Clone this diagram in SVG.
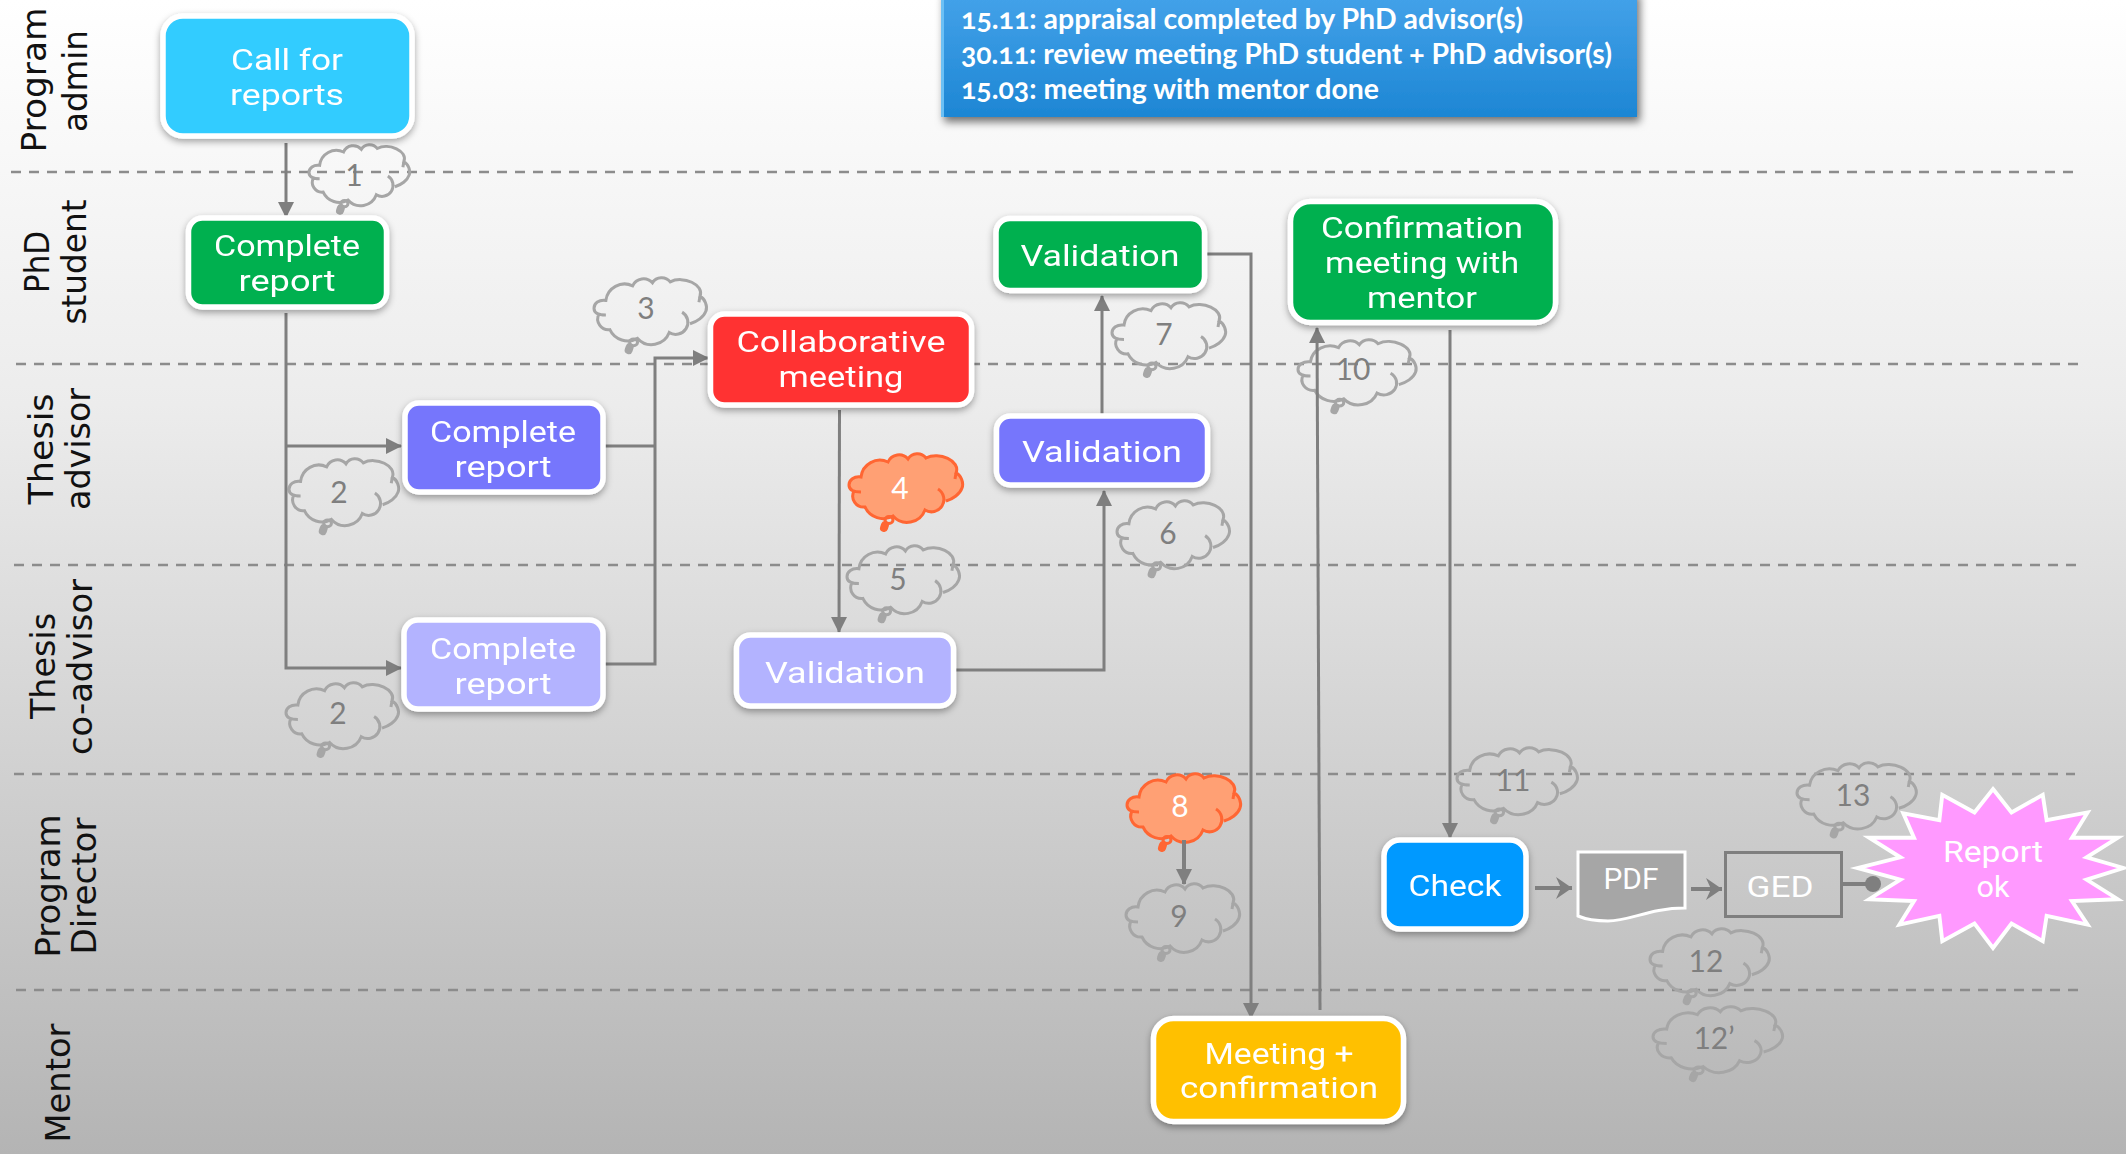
<svg xmlns="http://www.w3.org/2000/svg" xmlns:xlink="http://www.w3.org/1999/xlink" width="2126" height="1154" viewBox="0 0 2126 1154">
<style>
text{font-family:"Lato","Noto Sans",sans-serif;text-anchor:middle}
.lane{font-family:"DejaVu Sans",sans-serif;font-size:34px;fill:#111}
.n{stroke:#fff;stroke-width:5.5}
.t{fill:#fff;font-size:29px;font-family:"Roboto","Noto Sans",sans-serif}
.ct{fill:#7f7f7f;font-size:30px}
.cw{fill:#fff;font-size:30px}
.note{fill:#fff;font-size:28px;font-weight:700;text-anchor:start;font-variant-numeric:oldstyle-nums}
.dash{stroke:#8c8c8c;stroke-width:2.5;stroke-dasharray:10 8;fill:none}
.c{stroke:#7f7f7f;stroke-width:3;fill:none}
.c4{stroke:#7f7f7f;stroke-width:4;fill:none}
.cg{stroke:#a6a6a6;fill:none}
.co{stroke:#ff6633;fill:#ffa074}
</style>
<defs>
<linearGradient id="bg" x1="0" y1="0" x2="0" y2="1"><stop offset="0" stop-color="#fff"/><stop offset="0.35" stop-color="#ececec"/><stop offset="1" stop-color="#b4b4b4"/></linearGradient>
<linearGradient id="blue" x1="0" y1="0" x2="0" y2="1"><stop offset="0" stop-color="#45a3ea"/><stop offset="1" stop-color="#1d86d4"/></linearGradient>
<filter id="sh" x="-15%" y="-15%" width="130%" height="140%"><feDropShadow dx="0" dy="3" stdDeviation="3.5" flood-color="#000" flood-opacity="0.35"/></filter>
<filter id="sh2" x="-5%" y="-15%" width="110%" height="140%"><feDropShadow dx="3" dy="5" stdDeviation="4" flood-color="#000" flood-opacity="0.55"/></filter>
<marker id="a" markerUnits="userSpaceOnUse" markerWidth="16" markerHeight="16" refX="15" refY="8" orient="auto"><path d="M0 0L16 8L0 16Z" fill="#7f7f7f"/></marker>
<marker id="s" markerUnits="userSpaceOnUse" markerWidth="20" markerHeight="24" refX="19" refY="12" orient="auto"><path d="M3 1L19 12L3 23L8 12Z" fill="#7f7f7f"/></marker>
<g id="cloud">
<path stroke="none" d="M12 39C3 39 0 36 0 32C0 27 5 23 12 24A19 19 0 0 1 39 9A12 12 0 0 1 59 6A11 11 0 0 1 77 5C90 -2 112 8 107 20C112 22 115 30 113 35C111 41 104 46 97 48L93 54L85 59L76 57A19 19 0 0 1 44 63A20 20 0 0 1 16 54A11 11 0 0 1 5 38Z"/>
<path fill="none" vector-effect="non-scaling-stroke" stroke-width="3" d="M12 39C3 39 0 36 0 32C0 27 5 23 12 24A19 19 0 0 1 39 9A12 12 0 0 1 59 6A11 11 0 0 1 77 5C90 -2 112 8 107 20C112 22 115 30 113 35C111 41 104 46 97 48M107 20L106 26M89 36A12 12 0 0 1 76 57A19 19 0 0 1 44 63A20 20 0 0 1 16 54A11 11 0 0 1 5 38"/>
<ellipse cx="40" cy="67" rx="4" ry="3.500" fill="none" vector-effect="non-scaling-stroke" stroke-width="3"/>
<path d="M36 72L35 75" fill="none" vector-effect="non-scaling-stroke" stroke-width="8" stroke-linecap="round"/>
</g>
</defs>
<rect width="2126" height="1154" fill="url(#bg)"/>
<g id="lanes">
<path class="dash" d="M11 172H2075M16 364H2081M14 565H2077M14 774H2075M16 990H2081"/>
<text class="lane" transform="translate(46,80) rotate(-90)"><tspan x="0" y="0" textLength="145" lengthAdjust="spacingAndGlyphs">Program</tspan><tspan x="-1" y="41" textLength="102" lengthAdjust="spacingAndGlyphs">admin</tspan></text>
<text class="lane" transform="translate(49,262) rotate(-90)"><tspan x="0" y="0" textLength="62" lengthAdjust="spacingAndGlyphs">PhD</tspan><tspan x="0" y="37" textLength="125" lengthAdjust="spacingAndGlyphs">student</tspan></text>
<text class="lane" transform="translate(53,449) rotate(-90)"><tspan x="0" y="0" textLength="111" lengthAdjust="spacingAndGlyphs">Thesis</tspan><tspan x="0" y="37" textLength="122" lengthAdjust="spacingAndGlyphs">advisor</tspan></text>
<text class="lane" transform="translate(55,666) rotate(-90)"><tspan x="0" y="0" textLength="106" lengthAdjust="spacingAndGlyphs">Thesis</tspan><tspan x="-1" y="37" textLength="176" lengthAdjust="spacingAndGlyphs">co-advisor</tspan></text>
<text class="lane" transform="translate(60,886) rotate(-90)"><tspan x="0" y="0" textLength="143" lengthAdjust="spacingAndGlyphs">Program</tspan><tspan x="0" y="36" textLength="137" lengthAdjust="spacingAndGlyphs">Director</tspan></text>
<text class="lane" transform="translate(70,1083) rotate(-90)" textLength="119" lengthAdjust="spacingAndGlyphs">Mentor</text>
</g>
<g id="note">
<rect x="941" y="-10" width="696" height="127" fill="url(#blue)" filter="url(#sh2)"/>
<rect x="941" y="-10" width="3" height="127" fill="#6cc0f5"/>
<text class="note" x="961" y="29" textLength="562" lengthAdjust="spacingAndGlyphs">15.11: appraisal completed by PhD advisor(s)</text>
<text class="note" x="961" y="64" textLength="651" lengthAdjust="spacingAndGlyphs">30.11: review meeting PhD student + PhD advisor(s)</text>
<text class="note" x="961" y="99" textLength="418" lengthAdjust="spacingAndGlyphs">15.03: meeting with mentor done</text>
</g>
<g id="clouds">
<g id="cloud1"><use xlink:href="#cloud" class="cg" transform="translate(309,144) scale(.886,.89)"/><text class="ct" x="354" y="186">1</text></g>
<g id="cloud2a"><use xlink:href="#cloud" class="cg" transform="translate(289,458) scale(.965,.975)"/><text class="ct" x="339" y="503">2</text></g>
<g id="cloud2b"><use xlink:href="#cloud" class="cg" transform="translate(286,682) scale(.99,.96)"/><text class="ct" x="338" y="724">2</text></g>
<g id="cloud3"><use xlink:href="#cloud" class="cg" transform="translate(594,277) scale(.99,.975)"/><text class="ct" x="646" y="319">3</text></g>
<g id="cloud4"><use xlink:href="#cloud" class="co" transform="translate(849,453)"/><text class="cw" x="900" y="499">4</text></g>
<g id="cloud5"><use xlink:href="#cloud" class="cg" transform="translate(847,545) scale(.99,.99)"/><text class="ct" x="898" y="590">5</text></g>
<g id="cloud6"><use xlink:href="#cloud" class="cg" transform="translate(1117,500) scale(.99,.99)"/><text class="ct" x="1168" y="544">6</text></g>
<g id="cloud7"><use xlink:href="#cloud" class="cg" transform="translate(1112,302) scale(1,.96)"/><text class="ct" x="1164" y="345">7</text></g>
<g id="cloud8"><use xlink:href="#cloud" class="co" transform="translate(1127,773)"/><text class="cw" x="1180" y="817">8</text></g>
<g id="cloud9"><use xlink:href="#cloud" class="cg" transform="translate(1126,883)"/><text class="ct" x="1179" y="927">9</text></g>
<g id="cloud10"><use xlink:href="#cloud" class="cg" transform="translate(1298,339) scale(1.04,.95)"/><text class="ct" x="1353" y="380">10</text></g>
<g id="cloud11"><use xlink:href="#cloud" class="cg" transform="translate(1457,747) scale(1.06,.975)"/><text class="ct" x="1513" y="791">11</text></g>
<g id="cloud12"><use xlink:href="#cloud" class="cg" transform="translate(1650,928) scale(1.05,.975)"/><text class="ct" x="1706" y="972">12</text></g>
<g id="cloud12p"><use xlink:href="#cloud" class="cg" transform="translate(1653,1006) scale(1.14,.96)"/><text class="ct" x="1714" y="1049">12’</text></g>
<g id="cloud13"><use xlink:href="#cloud" class="cg" transform="translate(1797,762) scale(1.05,.965)"/><text class="ct" x="1853" y="806">13</text></g>
</g>
<g id="connectors">
<path class="c" marker-end="url(#a)" d="M286 143V217"/>
<path class="c" marker-end="url(#a)" d="M286 313V668H401"/>
<path class="c" marker-end="url(#a)" d="M286 446H401"/>
<path class="c" d="M605 446H655"/>
<path class="c" marker-end="url(#a)" d="M605 664H655V358H708"/>
<path class="c" marker-end="url(#a)" d="M839.500 410L839 632"/>
<path class="c" marker-end="url(#a)" d="M956 670H1104V491"/>
<path class="c" marker-end="url(#a)" d="M1102 414V296"/>
<path class="c" marker-end="url(#a)" d="M1204 254H1251V1018"/>
<path class="c" marker-end="url(#a)" d="M1320 1010L1317 328"/>
<path class="c" marker-end="url(#a)" d="M1450 330V838"/>
<path class="c4" marker-end="url(#a)" d="M1184 840V884"/>
<path class="c4" marker-end="url(#s)" d="M1535 888H1572"/>
<path class="c4" marker-end="url(#s)" d="M1691 889H1722"/>
<path class="c4" d="M1842 884H1868"/>
<circle cx="1873" cy="884" r="8" fill="#7f7f7f"/>
</g>
<g id="call" filter="url(#sh)"><rect class="n" x="163" y="16" width="249" height="120" rx="20" fill="#33ccff"/><text class="t"><tspan x="287" y="70" textLength="112" lengthAdjust="spacingAndGlyphs">Call for</tspan><tspan x="287" y="105" textLength="114" lengthAdjust="spacingAndGlyphs">reports</tspan></text></g>
<g id="student-report" filter="url(#sh)"><rect class="n" x="188.500" y="218" width="198" height="89" rx="14" fill="#00b050"/><text class="t"><tspan x="287" y="256" textLength="146" lengthAdjust="spacingAndGlyphs">Complete</tspan><tspan x="287" y="291" textLength="97" lengthAdjust="spacingAndGlyphs">report</tspan></text></g>
<g id="advisor-report" filter="url(#sh)"><rect class="n" x="405" y="403" width="198" height="89" rx="14" fill="#7676fc"/><text class="t"><tspan x="503" y="442" textLength="146" lengthAdjust="spacingAndGlyphs">Complete</tspan><tspan x="503" y="477" textLength="97" lengthAdjust="spacingAndGlyphs">report</tspan></text></g>
<g id="coadvisor-report" filter="url(#sh)"><rect class="n" x="404" y="620" width="199" height="89" rx="14" fill="#b3b3ff"/><text class="t"><tspan x="503" y="659" textLength="146" lengthAdjust="spacingAndGlyphs">Complete</tspan><tspan x="503" y="694" textLength="97" lengthAdjust="spacingAndGlyphs">report</tspan></text></g>
<g id="collab" filter="url(#sh)"><rect class="n" x="710.500" y="314" width="261" height="91" rx="14" fill="#ff3333"/><text class="t"><tspan x="841" y="352" textLength="209" lengthAdjust="spacingAndGlyphs">Collaborative</tspan><tspan x="841" y="387" textLength="125" lengthAdjust="spacingAndGlyphs">meeting</tspan></text></g>
<g id="val-co" filter="url(#sh)"><rect class="n" x="736.500" y="635" width="217" height="71" rx="14" fill="#b3b3ff"/><text class="t" x="845" y="683" textLength="160" lengthAdjust="spacingAndGlyphs">Validation</text></g>
<g id="val-adv" filter="url(#sh)"><rect class="n" x="996.500" y="416" width="211" height="69" rx="14" fill="#7676fc"/><text class="t" x="1102" y="462" textLength="160" lengthAdjust="spacingAndGlyphs">Validation</text></g>
<g id="val-student" filter="url(#sh)"><rect class="n" x="996" y="218.500" width="208.500" height="72" rx="14" fill="#00b050"/><text class="t" x="1100" y="266" textLength="159" lengthAdjust="spacingAndGlyphs">Validation</text></g>
<g id="confirm" filter="url(#sh)"><rect class="n" x="1290.500" y="201.500" width="265" height="121" rx="20" fill="#00b050"/><text class="t"><tspan x="1422" y="238" textLength="202" lengthAdjust="spacingAndGlyphs">Confirmation</tspan><tspan x="1422" y="273" textLength="194" lengthAdjust="spacingAndGlyphs">meeting with</tspan><tspan x="1422" y="308" textLength="110" lengthAdjust="spacingAndGlyphs">mentor</tspan></text></g>
<g id="mentor" filter="url(#sh)"><rect class="n" x="1153.500" y="1018.500" width="250" height="103" rx="20" fill="#ffc000"/><text class="t"><tspan x="1279" y="1064" textLength="149" lengthAdjust="spacingAndGlyphs">Meeting +</tspan><tspan x="1279" y="1098" textLength="198" lengthAdjust="spacingAndGlyphs">confirmation</tspan></text></g>
<g id="check" filter="url(#sh)"><rect class="n" x="1384" y="840" width="142" height="89" rx="16" fill="#0099ff"/><text class="t" x="1455" y="896" textLength="93" lengthAdjust="spacingAndGlyphs">Check</text></g>
<g id="pdf"><path d="M1578 852H1685V908C1650 908 1630 921 1608 921C1595 921 1585 919 1578 916Z" fill="#a6a6a6" stroke="#fff" stroke-width="3"/><text class="t" x="1631" y="889" textLength="55" lengthAdjust="spacingAndGlyphs">PDF</text></g>
<g id="ged"><rect x="1725.500" y="852.500" width="116" height="64" fill="none" stroke="#7f7f7f" stroke-width="3"/><text class="t" x="1780" y="897" textLength="67" lengthAdjust="spacingAndGlyphs">GED</text></g>
<g id="report-ok"><polygon transform="translate(1993,868) scale(.975) translate(-1993,-868)" points="1993,787 2012,811 2044,793 2048,819 2090,811 2074,837 2121,837 2089,857 2127,868 2089,880 2121,900 2074,902 2090,926 2048,917 2044,943 2012,925 1993,950 1974,925 1941,943 1938,917 1897,926 1912,902 1866,900 1898,880 1854,868 1898,857 1866,837 1912,837 1901,812 1938,819 1941,793 1974,811" fill="#ff99ff" stroke="#fff" stroke-width="4"/><text class="t"><tspan x="1993" y="862" textLength="100" lengthAdjust="spacingAndGlyphs">Report</tspan><tspan x="1993" y="897" textLength="33" lengthAdjust="spacingAndGlyphs">ok</tspan></text></g>
</svg>
